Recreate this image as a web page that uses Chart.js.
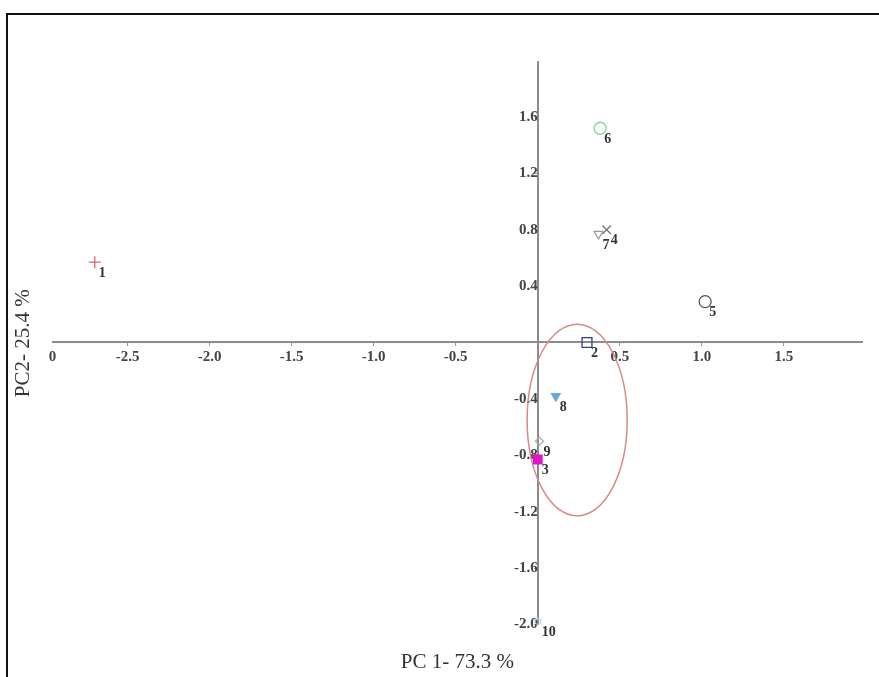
<!DOCTYPE html>
<html>
<head>
<meta charset="utf-8">
<script src="https://cdn.jsdelivr.net/npm/chart.js@4.4.0/dist/chart.umd.min.js"></script>
<style>
  body { margin: 0; background: #fff; overflow: hidden; }
  #frame { position: absolute; left: 6px; top: 13px; right: -10px; bottom: -10px;
           border-top: 2px solid #111; border-left: 2px solid #111; }
  #c { position: absolute; left: 0; top: 0; }
</style>
</head>
<body>
<div id="frame"></div>
<canvas id="c" width="879" height="677"></canvas>
<script>
// Muestras del PCA (PC1 vs PC2)
const sampleLabels = ['1', '2', '3', '4', '5', '6', '7', '8', '9', '10'];
const pc1 = [-2.70, 0.30, 0.00, 0.42, 1.02, 0.38, 0.37, 0.11, 0.01, 0.00];
const pc2 = [0.57, 0.00, -0.83, 0.80, 0.29, 1.52, 0.77, -0.38, -0.70, -1.98];

const xTitle = 'PC 1- 73.3 %';
const yTitle = 'PC2- 25.4 %';

// rangos y marcas de los ejes
const xMin = -2.957, xMax = 1.976;
const yMin = -2.0, yMax = 1.99;
const xTicks = [xMin, -2.5, -2.0, -1.5, -1.0, -0.5, 0.5, 1.0, 1.5];
const yTicks = [-2.0, -1.6, -1.2, -0.8, -0.4, 0.4, 0.8, 1.2, 1.6];

// elipse del grupo (unidades de datos)
const ellipseCenter = [0.24, -0.55];
const ellipseRadius = [0.305, 0.68];

// un marcador distinto por muestra
const markers = [
  { style: 'cross', color: '#d86a6a', fill: false, r: 6 },
  { style: 'rect', color: '#2e3f88', fill: false, r: 7 },
  { style: 'rect', color: '#e016c8', fill: true, r: 6 },
  { style: 'crossRot', color: '#777777', fill: false, r: 6 },
  { style: 'circle', color: '#555555', fill: false, r: 6 },
  { style: 'circle', color: '#88d488', fill: false, r: 6 },
  { style: 'triangle', color: '#999999', fill: false, r: 5, rot: 180 },
  { style: 'triangle', color: '#6aa8d6', fill: true, r: 5, rot: 180 },
  { style: 'rectRot', color: '#aaaaaa', fill: false, r: 4 },
  { style: 'circle', color: '#bcd8ea', fill: false, r: 3 }
];

const serif = 'Liberation Serif';

const ellipsePlugin = {
  id: 'ellipse',
  beforeDatasetsDraw(chart) {
    const { ctx, scales: { x, y } } = chart;
    const cx = x.getPixelForValue(ellipseCenter[0]);
    const cy = y.getPixelForValue(ellipseCenter[1]);
    const rx = Math.abs(x.getPixelForValue(ellipseCenter[0] + ellipseRadius[0]) - cx);
    const ry = Math.abs(y.getPixelForValue(ellipseCenter[1] + ellipseRadius[1]) - cy);
    ctx.save();
    ctx.beginPath();
    ctx.ellipse(cx, cy, rx, ry, 0, 0, Math.PI * 2);
    ctx.strokeStyle = '#d88a86';
    ctx.lineWidth = 1.5;
    ctx.stroke();
    ctx.restore();
  }
};

const pointLabels = {
  id: 'pointLabels',
  afterDatasetsDraw(chart) {
    const { ctx } = chart;
    const meta = chart.getDatasetMeta(0);
    ctx.save();
    ctx.font = 'bold 14px ' + serif;
    ctx.fillStyle = '#333';
    ctx.textAlign = 'left';
    ctx.textBaseline = 'middle';
    meta.data.forEach((pt, i) => {
      ctx.fillText(sampleLabels[i], pt.x + 4, pt.y + 11);
    });
    ctx.restore();
  }
};

const tickFont = { family: serif, size: 15, weight: 'bold' };
const titleFont = { family: serif, size: 21, weight: 'normal', lineHeight: 1.2 };

new Chart(document.getElementById('c'), {
  type: 'scatter',
  data: {
    labels: sampleLabels,
    datasets: [{
      data: pc1.map((v, i) => ({ x: v, y: pc2[i] })),
      pointStyle: markers.map(m => m.style),
      pointRadius: markers.map(m => m.r),
      pointRotation: markers.map(m => m.rot || 0),
      borderColor: markers.map(m => m.color),
      backgroundColor: markers.map(m => m.fill ? m.color : 'rgba(0,0,0,0)'),
      borderWidth: 1.3
    }]
  },
  options: {
    responsive: false,
    animation: false,
    devicePixelRatio: 1,
    layout: { padding: { top: 62, right: 17, bottom: 0, left: 0 } },
    plugins: {
      legend: { display: false },
      tooltip: { enabled: false },
      title: {
        display: true, position: 'bottom', fullSize: false, text: xTitle,
        color: '#333', font: titleFont, padding: { top: 25, bottom: 2.4 }
      },
      subtitle: {
        display: true, position: 'left', fullSize: false, text: yTitle,
        color: '#333', font: titleFont, padding: { top: 10.4, bottom: 17 }
      }
    },
    scales: {
      x: {
        type: 'linear', min: xMin, max: xMax, position: { y: 0 },
        afterFit(s) { s.height = 0; },
        afterBuildTicks(s) { s.ticks = xTicks.map(v => ({ value: v })); },
        ticks: {
          autoSkip: false, maxRotation: 0, padding: 3,
          color: '#444', font: tickFont,
          callback: v => (v === xMin ? '0' : v.toFixed(1))
        },
        grid: {
          drawOnChartArea: false, tickLength: 3, color: '#999',
          tickColor: c => (c.tick && c.tick.value === xMin) ? 'rgba(0,0,0,0)' : '#999'
        },
        border: { color: '#8c8c8c', width: 2 }
      },
      y: {
        type: 'linear', min: yMin, max: yMax, position: { x: 0 },
        afterFit(s) { s.width = 0; },
        afterBuildTicks(s) { s.ticks = yTicks.map(v => ({ value: v })); },
        ticks: {
          autoSkip: false, padding: 1,
          color: '#444', font: tickFont,
          callback: v => v.toFixed(1)
        },
        grid: { drawOnChartArea: false, tickLength: 3, color: '#999' },
        border: { color: '#8c8c8c', width: 2 }
      }
    }
  },
  plugins: [ellipsePlugin, pointLabels]
});
</script>
</body>
</html>
